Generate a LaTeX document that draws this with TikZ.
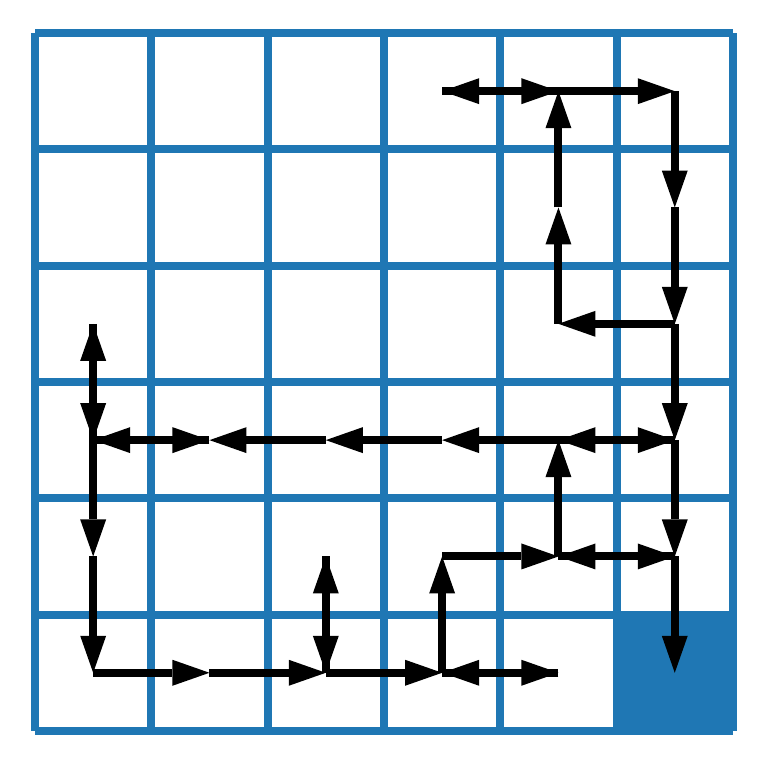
\documentclass[tikz,border=0pt]{standalone}
\usetikzlibrary{arrows.meta}
\definecolor{gridblue}{RGB}{31,119,180}
\tikzset{
  gridline/.style={draw=gridblue, line width=3.9pt},
  goalcell/.style={fill=gridblue},
  move/.style={draw=black, line width=3.9pt,
    -{Triangle[length=18.1pt,width=12.7pt,line width=0pt]}}
}
\begin{document}
\begin{tikzpicture}[x=2cm,y=2cm]
\useasboundingbox (-0.301,-0.310) rectangle (6.292,6.284);
% goal cell
\fill[goalcell] (5,0) rectangle (6,1);
% grid
\foreach \i in {0,...,6} {
  \draw[gridline] (\i,0) -- (\i,6);
  \draw[gridline] (0,\i) -- (6,\i);
}
% cell centres: (c-r) with r counted from the top
\foreach \c in {0,...,5} {
  \foreach \r in {0,...,5} {
    \coordinate (c\c-\r) at ({\c+0.5},{5.5-\r});
  }
}
% trajectory moves
\foreach \a/\b in {
  c4-0/c3-0, c3-0/c4-0, c4-0/c5-0, c5-0/c5-1, c5-1/c5-2, c5-2/c4-2,
  c4-2/c4-1, c4-1/c4-0, c5-2/c5-3, c5-3/c4-3, c4-3/c5-3, c4-3/c3-3,
  c3-3/c2-3, c2-3/c1-3, c1-3/c0-3, c0-3/c1-3, c0-3/c0-2, c0-2/c0-3,
  c0-3/c0-4, c0-4/c0-5, c0-5/c1-5, c1-5/c2-5, c2-5/c2-4, c2-4/c2-5,
  c2-5/c3-5, c3-5/c4-5, c4-5/c3-5, c3-5/c3-4, c3-4/c4-4, c4-4/c4-3,
  c4-4/c5-4, c5-4/c4-4, c5-3/c5-4, c5-4/c5-5} {
  \draw[move] (\a) -- (\b);
}
\end{tikzpicture}
\end{document}
